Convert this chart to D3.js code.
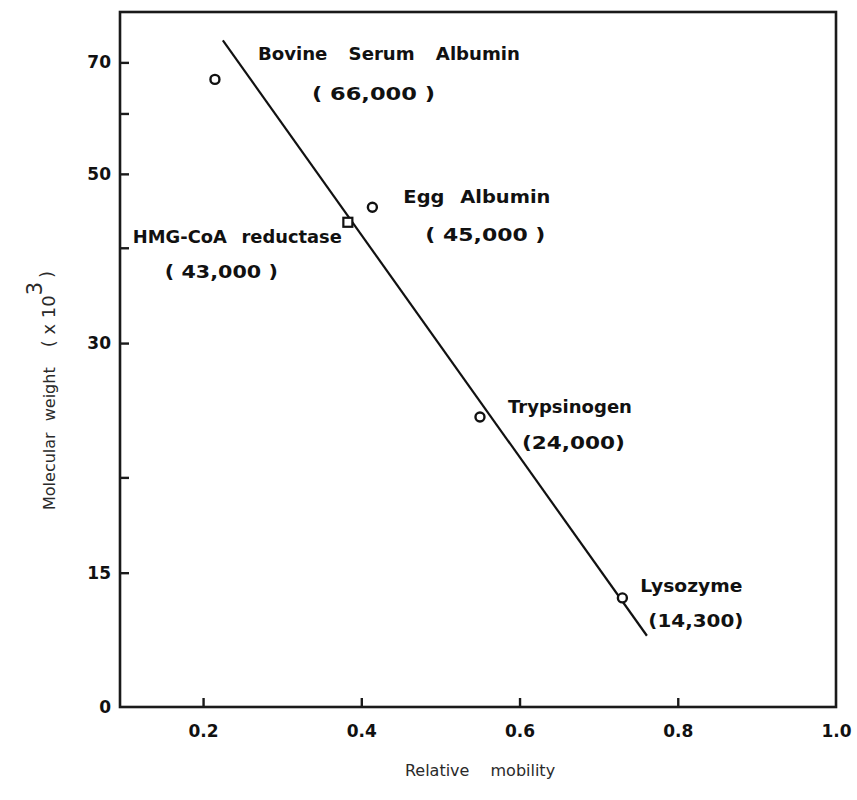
<!DOCTYPE html>
<html>
<head>
<meta charset="utf-8">
<script src="https://cdn.jsdelivr.net/npm/d3@7"></script>
<style>
  body { margin: 0; background: #fff; }
  svg { display: block; }
  .tickLabel { font-family: "DejaVu Sans", sans-serif; font-weight: bold; fill: #111; }
  .note { font-family: "DejaVu Sans", sans-serif; font-weight: bold; fill: #111; }
  .axisText { font-family: "DejaVu Sans", sans-serif; fill: #2a2a2a; }
</style>
</head>
<body>
<div id="scatter"></div>
<script>
// protein standards, SDS gel
var proteins = ["Bovine Serum Albumin", "HMG-CoA reductase", "Egg Albumin", "Trypsinogen", "Lysozyme"];
var mwLabels = ["( 66,000 )", "( 43,000 )", "( 45,000 )", "(24,000)", "(14,300)"];
var mobility = [0.215, 0.383, 0.414, 0.550, 0.730];
var weight = [66.5, 43.2, 45.2, 24.0, 13.9];
var markerShape = ["circle", "square", "circle", "circle", "circle"];

// fitted line ends
var fitMobility = [0.225, 0.761];
var fitWeight = [74.8, 12.4];

var xTicks = [0.2, 0.4, 0.6, 0.8, 1.0];
var xTickLabels = ["0.2", "0.4", "0.6", "0.8", "1.0"];
var yTicks = [70, 60, 50, 40, 30, 20, 15, 10];
var yTickLabels = ["70", "", "50", "", "30", "", "15", "0"];

makePlot();

function makePlot() {
    var svgWidth = 857;
    var svgHeight = 800;

    var left = 120, right = 836, top = 12, bottom = 707;

    var svg = d3.select("#scatter")
        .append("svg")
        .attr("width", svgWidth)
        .attr("height", svgHeight);

    var xScale = d3.scaleLinear()
        .domain([0.095, 1.0])
        .range([left, right]);

    var yScale = d3.scaleLog()
        .domain([10, 81.5])
        .range([bottom, top]);

    // frame
    svg.append("rect")
        .attr("x", left)
        .attr("y", top)
        .attr("width", right - left)
        .attr("height", bottom - top)
        .attr("fill", "none")
        .attr("stroke", "#1a1a1a")
        .attr("stroke-width", 2.6);

    // axes with inward ticks
    var leftAxis = d3.axisLeft(yScale)
        .tickValues(yTicks)
        .tickSizeInner(-9)
        .tickSizeOuter(0)
        .tickPadding(9)
        .tickFormat((d, i) => yTickLabels[i]);

    var bottomAxis = d3.axisBottom(xScale)
        .tickValues(xTicks)
        .tickSizeInner(-9)
        .tickSizeOuter(0)
        .tickPadding(18)
        .tickFormat((d, i) => xTickLabels[i]);

    var yG = svg.append("g")
        .attr("transform", `translate(${left}, 0)`)
        .call(leftAxis);

    var xG = svg.append("g")
        .attr("transform", `translate(0, ${bottom})`)
        .call(bottomAxis);

    [yG, xG].forEach(function(g) {
        g.select(".domain").remove();
        g.selectAll(".tick line").attr("stroke", "#1a1a1a").attr("stroke-width", 2.4);
        g.selectAll(".tick text")
            .attr("class", "tickLabel")
            .style("font-size", "17px");
    });
    yG.selectAll(".tick line").filter(d => d === 10).remove();
    xG.selectAll(".tick line").filter(d => d === 1.0).remove();

    // fitted line
    var fit = fitMobility.map((m, i) => [m, fitWeight[i]]);
    svg.append("path")
        .datum(fit)
        .attr("d", d3.line().x(d => xScale(d[0])).y(d => yScale(d[1])))
        .attr("stroke", "#111")
        .attr("stroke-width", 2.2)
        .attr("fill", "none");

    var pts = proteins.map(function(p, i) {
        return { name: p, mw: mwLabels[i], x: mobility[i], y: weight[i], shape: markerShape[i] };
    });

    svg.append("g").selectAll("circle")
        .data(pts.filter(d => d.shape === "circle"))
        .enter()
        .append("circle")
        .attr("cx", d => xScale(d.x))
        .attr("cy", d => yScale(d.y))
        .attr("r", 4.5)
        .attr("fill", "#fff")
        .attr("stroke", "#111")
        .attr("stroke-width", 2.4);

    svg.append("g").selectAll("rect")
        .data(pts.filter(d => d.shape === "square"))
        .enter()
        .append("rect")
        .attr("x", d => xScale(d.x) - 4.5)
        .attr("y", d => yScale(d.y) - 4.5)
        .attr("width", 9)
        .attr("height", 9)
        .attr("fill", "#fff")
        .attr("stroke", "#111")
        .attr("stroke-width", 2.2);

    // label placement: offsets from the point, fitted widths
    var nameDx = [43, -215, 31, 28, 18];
    var nameDy = [-25, 15, -10, -10, -12];
    var nameW = [262, 209, 147, 124, 102];
    var mwDx = [97, -183, 53, 42, 26];
    var mwDy = [15, 50, 28, 26, 23];
    var mwW = [123, 113, 120, 103, 95];

    var notes = svg.append("g");
    pts.forEach(function(d, i) {
        var px = xScale(d.x), py = yScale(d.y);
        notes.append("text")
            .attr("class", "note")
            .attr("x", px + nameDx[i])
            .attr("y", py + nameDy[i])
            .attr("dy", "0.35em")
            .attr("textLength", nameW[i])
            .attr("lengthAdjust", "spacingAndGlyphs")
            .style("font-size", "17px")
            .style("word-spacing", i === 0 ? "14px" : "8px")
            .text(d.name);
        notes.append("text")
            .attr("class", "note")
            .attr("x", px + mwDx[i])
            .attr("y", py + mwDy[i])
            .attr("dy", "0.35em")
            .attr("textLength", mwW[i])
            .attr("lengthAdjust", "spacingAndGlyphs")
            .style("font-size", "17px")
            .text(d.mw);
    });

    // axis titles
    svg.append("text")
        .attr("class", "axisText")
        .attr("x", 480)
        .attr("y", 776)
        .attr("text-anchor", "middle")
        .style("font-size", "16px")
        .style("word-spacing", "16px")
        .text("Relative mobility");

    var yTitle = svg.append("text")
        .attr("class", "axisText")
        .attr("transform", "translate(55, 510) rotate(-90)")
        .attr("text-anchor", "start")
        .style("font-size", "16px");
    yTitle.append("tspan").style("word-spacing", "6px").text("Molecular weight");
    yTitle.append("tspan").attr("dx", 20).style("font-size", "18px").text("( x 10");
    yTitle.append("tspan").attr("dy", "-0.6em").style("font-size", "21px").text("3");
    yTitle.append("tspan").attr("dy", "0.6em").attr("dx", 4).style("font-size", "18px").text(")");
}
</script>
</body>
</html>
